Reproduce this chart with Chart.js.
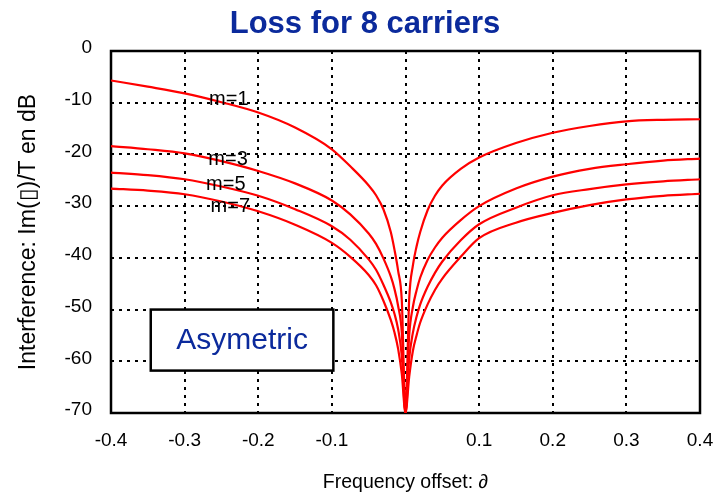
<!DOCTYPE html>
<html>
<head>
<meta charset="utf-8">
<script src="https://cdn.jsdelivr.net/npm/chart.js@4.4.0/dist/chart.umd.min.js"></script>
<style>
  html, body { margin: 0; padding: 0; background: #fff; }
  #wrap { width: 722px; height: 494px; }
</style>
</head>
<body>
<div id="wrap"><canvas id="lossChart" width="722" height="494"></canvas></div>
<script>
// frequency offsets and interference (dB)
const offsets = [-0.4, -0.35, -0.3, -0.25, -0.2, -0.15, -0.1, -0.075, -0.05, -0.04, -0.03, -0.02, -0.015, -0.01, -0.005, 0,
  0.005, 0.01, 0.015, 0.02, 0.03, 0.04, 0.05, 0.075, 0.1, 0.15, 0.2, 0.25, 0.3, 0.35, 0.4];
const m1 = [-5.7, -6.9, -8.2, -9.9, -11.9, -14.8, -19.0, -22.3, -26.0, -27.9, -30.6, -35.0, -38.4, -42.5, -48.3, -70,
  -48.0, -41.5, -37.8, -35.0, -30.8, -28.0, -26.0, -22.8, -20.6, -17.8, -15.8, -14.5, -13.6, -13.3, -13.2];
const m3 = [-18.4, -19.0, -19.8, -21.3, -23.2, -25.6, -28.9, -31.6, -35.3, -37.3, -40.1, -43.6, -46.0, -49.3, -54.5, -70,
  -55.0, -49.5, -46.3, -43.8, -40.4, -38.0, -36.1, -32.7, -30.0, -26.6, -24.3, -22.8, -21.9, -21.2, -20.8];
const m5 = [-23.5, -24.0, -24.8, -26.2, -28.0, -30.6, -33.9, -36.5, -40.3, -42.3, -45.2, -48.6, -50.8, -53.8, -59.0, -70,
  -59.5, -54.5, -51.4, -49.0, -45.6, -42.9, -40.7, -36.6, -33.5, -30.3, -27.9, -26.7, -25.8, -25.2, -24.8];
const m7 = [-26.6, -27.0, -27.7, -29.1, -31.0, -33.6, -37.1, -39.8, -43.3, -45.3, -48.3, -52.0, -54.4, -57.6, -62.5, -70,
  -63.0, -58.0, -55.0, -52.5, -49.0, -46.2, -44.0, -39.8, -36.2, -33.2, -31.3, -29.8, -28.7, -28.0, -27.6];
const seriesNames = ["m=1", "m=3", "m=5", "m=7"];
const xTicks = [-0.4, -0.3, -0.2, -0.1, 0, 0.1, 0.2, 0.3, 0.4];
const yTicks = [0, -10, -20, -30, -40, -50, -60, -70];

const FONT = "'Liberation Sans', Arial, Helvetica, sans-serif";

const toPoints = (ys) => offsets.map((x, i) => ({ x: x, y: ys[i] }));

// frame, curve names, the "Asymetric" box and the title
const decorations = {
  id: "decorations",
  beforeDatasetsDraw(chart) {
    const { ctx, chartArea } = chart;
    ctx.save();
    ctx.strokeStyle = "#000";
    ctx.lineWidth = 2.5;
    ctx.strokeRect(chartArea.left, chartArea.top, chartArea.right - chartArea.left, chartArea.bottom - chartArea.top);
    ctx.restore();
  },
  afterDatasetsDraw(chart, args, opts) {
    const { ctx, scales } = chart;
    const xs = scales.x, ys = scales.y;
    ctx.save();
    // curve names
    ctx.fillStyle = "#000";
    ctx.font = "20px " + FONT;
    ctx.textAlign = "center";
    ctx.textBaseline = "middle";
    seriesNames.forEach((name, i) => {
      ctx.fillText(name, xs.getPixelForValue(opts.labelX[i]), ys.getPixelForValue(opts.labelY[i]));
    });
    // Asymetric box
    const bx1 = xs.getPixelForValue(-0.346), bx2 = xs.getPixelForValue(-0.098);
    const by1 = ys.getPixelForValue(-50), by2 = ys.getPixelForValue(-61.8);
    ctx.fillStyle = "#fff";
    ctx.fillRect(bx1, by1, bx2 - bx1, by2 - by1);
    ctx.strokeStyle = "#000";
    ctx.lineWidth = 2.5;
    ctx.strokeRect(bx1, by1, bx2 - bx1, by2 - by1);
    ctx.fillStyle = "#0b2a9c";
    ctx.font = "30px " + FONT;
    ctx.fillText("Asymetric", (bx1 + bx2) / 2, (by1 + by2) / 2 + 1);
    // title
    ctx.font = "bold 31px " + FONT;
    ctx.textBaseline = "alphabetic";
    ctx.fillStyle = "#0b2a9c";
    ctx.fillText("Loss for 8 carriers", 365, 33);
    ctx.restore();
  }
};

new Chart(document.getElementById("lossChart"), {
  type: "line",
  data: {
    datasets: [m1, m3, m5, m7].map((ys, i) => ({
      label: seriesNames[i],
      data: toPoints(ys),
      borderColor: "#ff0000",
      borderWidth: 2.2,
      pointRadius: 0,
      fill: false,
      cubicInterpolationMode: "monotone",
    })),
  },
  options: {
    responsive: false,
    animation: false,
    devicePixelRatio: 1,
    layout: { padding: { top: 51, right: 22, left: 0, bottom: 0 } },
    plugins: {
      legend: { display: false },
      tooltip: { enabled: false },
      title: { display: false },
      decorations: {
        labelX: [-0.24, -0.241, -0.244, -0.238],
        labelY: [-9.4, -20.9, -25.8, -30.1],
      },
    },
    scales: {
      x: {
        type: "linear",
        min: -0.4,
        max: 0.4,
        afterBuildTicks: (scale) => { scale.ticks = xTicks.map((v) => ({ value: v })); },
        afterFit: (scale) => {
          scale.height = 81;
          scale.paddingLeft = 0;
          scale.paddingRight = 0;
        },
        ticks: {
          padding: 16,
          color: "#000",
          font: { family: FONT, size: 19 },
          maxRotation: 0,
          callback: (v) => (Math.abs(v) < 1e-9 ? "" : v.toFixed(1)),
        },
        grid: { color: "#000", lineWidth: 2, drawTicks: false },
        border: { display: false, dash: [3, 5] },
        title: {
          display: true,
          text: "Frequency offset: \u2202",
          color: "#000",
          font: { family: FONT, size: 19.5 },
          padding: { top: 0, bottom: 0 },
        },
      },
      y: {
        min: -70,
        max: 0,
        afterBuildTicks: (scale) => { scale.ticks = yTicks.map((v) => ({ value: v })); },
        afterFit: (scale) => { scale.width = 111; },
        ticks: {
          padding: 19,
          labelOffset: -3,
          color: "#000",
          font: { family: FONT, size: 19 },
        },
        grid: { color: "#000", lineWidth: 2, drawTicks: false },
        border: { display: false, dash: [3, 5] },
        title: {
          display: true,
          text: "Interference: Im(\u25AF)/T en dB",
          color: "#000",
          font: { family: FONT, size: 23 },
          padding: { top: 15, bottom: 0 },
        },
      },
    },
  },
  plugins: [decorations],
});
</script>
</body>
</html>
